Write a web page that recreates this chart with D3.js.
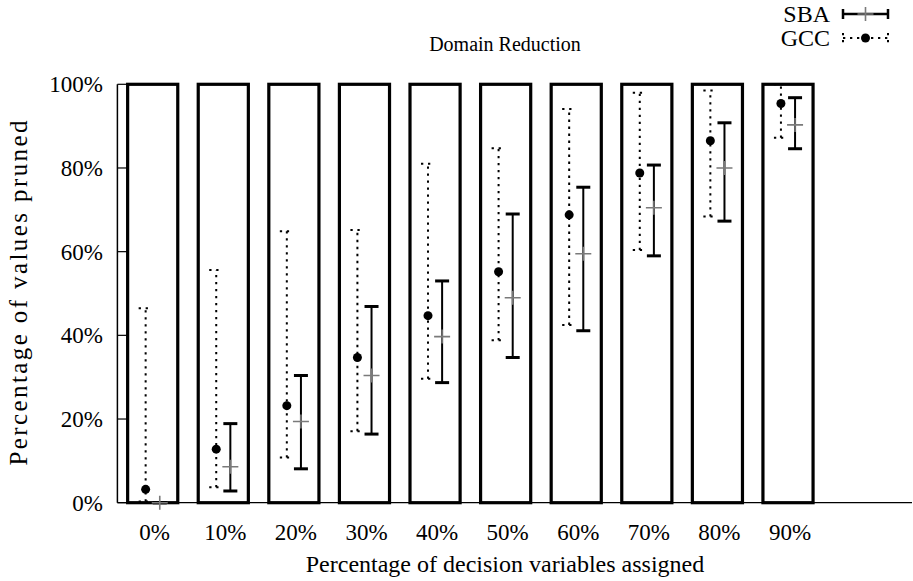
<!DOCTYPE html>
<html>
<head>
<meta charset="utf-8">
<script src="https://cdn.jsdelivr.net/npm/d3@7"></script>
<style>
  body { margin: 0; background: #fff; }
  svg text { font-family: "Liberation Serif", serif; fill: #000; }
</style>
</head>
<body>
<svg id="chart" width="913" height="581"></svg>
<script>
var categories = ['0%', '10%', '20%', '30%', '40%', '50%', '60%', '70%', '80%', '90%'];
var barValues = [100, 100, 100, 100, 100, 100, 100, 100, 100, 100];

var gccMean = [3.2, 12.8, 23.2, 34.7, 44.7, 55.2, 68.8, 78.8, 86.5, 95.4];
var gccLow  = [0.3, 3.7, 10.8, 17.1, 29.6, 38.8, 42.5, 60.4, 68.4, 87.2];
var gccHigh = [46.5, 55.6, 64.9, 65.2, 81.0, 84.7, 94.1, 98.0, 98.5, 100];

var sbaMean = [0, 8.6, 19.4, 30.4, 39.7, 49.0, 59.5, 70.5, 80.0, 90.3];
var sbaLow  = [0, 2.8, 8.1, 16.4, 28.7, 34.7, 41.1, 59.0, 67.3, 84.6];
var sbaHigh = [0, 18.9, 30.4, 46.9, 53.0, 69.0, 75.4, 80.7, 90.8, 96.8];

var yTicks = [0, 20, 40, 60, 80, 100];

var svg = d3.select('#chart');

var x = d3.scaleLinear().domain([0, 9]).range([152.7, 788]);
var y = d3.scaleLinear().domain([0, 100]).range([502.7, 84.3]);
var unit = x(1) - x(0);

var boxW = 0.71, off = 0.1, cap = 7;
var dots = '2.3,4.7';

function series(mean, low, high) {
  return categories.map(function(c, i) {
    return {i: i, mean: mean[i], low: low[i], high: high[i]};
  });
}
var gcc = series(gccMean, gccLow, gccHigh);
var sba = series(sbaMean, sbaLow, sbaHigh);

// axis lines (left border + zero line only)
svg.append('line')
  .attr('x1', x(-0.5)).attr('x2', 912)
  .attr('y1', y(0)).attr('y2', y(0))
  .attr('stroke', '#000').attr('stroke-width', 1.2);
svg.append('line')
  .attr('x1', x(-0.5)).attr('x2', x(-0.5))
  .attr('y1', y(0)).attr('y2', y(100))
  .attr('stroke', '#000').attr('stroke-width', 1.5);

// y ticks point inward
svg.append('g').selectAll('line')
  .data(yTicks).enter().append('line')
  .attr('x1', x(-0.5)).attr('x2', x(-0.5) + 11)
  .attr('y1', function(d) { return y(d); })
  .attr('y2', function(d) { return y(d); })
  .attr('stroke', '#000').attr('stroke-width', 1.2);

svg.append('g').selectAll('text')
  .data(yTicks).enter().append('text')
  .attr('x', 103).attr('y', function(d) { return y(d) + 8; })
  .attr('text-anchor', 'end').attr('font-size', 23)
  .text(function(d) { return d + '%'; });

svg.append('g').selectAll('text')
  .data(categories).enter().append('text')
  .attr('x', function(d, i) { return x(i) + 2; }).attr('y', 540)
  .attr('text-anchor', 'middle').attr('font-size', 23)
  .text(function(d) { return d; });

// bars
svg.append('g').selectAll('rect')
  .data(barValues).enter().append('rect')
  .attr('x', function(d, i) { return x(i - boxW / 2); })
  .attr('y', function(d) { return y(d); })
  .attr('width', boxW * unit)
  .attr('height', function(d) { return y(0) - y(d); })
  .attr('fill', 'none').attr('stroke', '#000').attr('stroke-width', 3.2);

// GCC error bars (dotted)
var g1 = svg.append('g');
g1.selectAll('line.v').data(gcc).enter().append('line')
  .attr('x1', function(d) { return x(d.i - off); })
  .attr('x2', function(d) { return x(d.i - off); })
  .attr('y1', function(d) { return y(d.low); })
  .attr('y2', function(d) { return y(d.high); })
  .attr('stroke', '#000').attr('stroke-width', 2).attr('stroke-dasharray', dots);
['low', 'high'].forEach(function(k) {
  g1.selectAll('line.c' + k).data(gcc).enter().append('line')
    .attr('x1', function(d) { return x(d.i - off) - cap; })
    .attr('x2', function(d) { return x(d.i - off) + cap; })
    .attr('y1', function(d) { return y(d[k]); })
    .attr('y2', function(d) { return y(d[k]); })
    .attr('stroke', '#000').attr('stroke-width', 2).attr('stroke-dasharray', dots);
});
g1.selectAll('circle').data(gcc).enter().append('circle')
  .attr('cx', function(d) { return x(d.i - off); })
  .attr('cy', function(d) { return y(d.mean); })
  .attr('r', 4.5).attr('fill', '#000');

// SBA error bars (solid)
var g2 = svg.append('g');
g2.selectAll('line.v').data(sba).enter().append('line')
  .attr('x1', function(d) { return x(d.i + off); })
  .attr('x2', function(d) { return x(d.i + off); })
  .attr('y1', function(d) { return y(d.low); })
  .attr('y2', function(d) { return y(d.high); })
  .attr('stroke', '#000').attr('stroke-width', 2);
['low', 'high'].forEach(function(k) {
  g2.selectAll('line.c' + k).data(sba).enter().append('line')
    .attr('x1', function(d) { return x(d.i + off) - cap; })
    .attr('x2', function(d) { return x(d.i + off) + cap; })
    .attr('y1', function(d) { return y(d[k]); })
    .attr('y2', function(d) { return y(d[k]); })
    .attr('stroke', '#000').attr('stroke-width', 3);
});
g2.selectAll('path').data(sba).enter().append('path')
  .attr('d', function(d) {
    var cx = x(d.i + off), cy = y(d.mean);
    return 'M' + (cx - 8) + ',' + cy + 'H' + (cx + 8) + 'M' + cx + ',' + (cy - 7) + 'V' + (cy + 7);
  })
  .attr('stroke', '#7a7a7a').attr('stroke-width', 1.6).attr('fill', 'none');

// titles
svg.append('text').attr('x', 505).attr('y', 51)
  .attr('text-anchor', 'middle').attr('font-size', 20).text('Domain Reduction');
svg.append('text').attr('x', 505).attr('y', 572)
  .attr('text-anchor', 'middle').attr('font-size', 24).text('Percentage of decision variables assigned');
svg.append('text')
  .attr('transform', 'translate(27,' + 293 + ') rotate(-90)')
  .attr('text-anchor', 'middle').attr('font-size', 25)
  .attr('textLength', 345).attr('lengthAdjust', 'spacing')
  .text('Percentage of values pruned');

// legend
var legend = svg.append('g');
var lx1 = 843, lx2 = 888, lmid = (lx1 + lx2) / 2;
legend.append('text').attr('x', 830).attr('y', 22).attr('text-anchor', 'end')
  .attr('font-size', 24).text('SBA');
legend.append('text').attr('x', 830).attr('y', 46).attr('text-anchor', 'end')
  .attr('font-size', 24).text('GCC');
legend.append('path')
  .attr('d', 'M' + lx1 + ',14H' + lx2 + 'M' + lx1 + ',9V19M' + lx2 + ',9V19')
  .attr('stroke', '#000').attr('stroke-width', 2.5).attr('fill', 'none');
legend.append('path')
  .attr('d', 'M' + (lmid - 8) + ',14H' + (lmid + 8) + 'M' + lmid + ',7V21')
  .attr('stroke', '#7a7a7a').attr('stroke-width', 1.6).attr('fill', 'none');
legend.append('path')
  .attr('d', 'M' + lx1 + ',38H' + lx2 + 'M' + lx1 + ',33V43M' + lx2 + ',33V43')
  .attr('stroke', '#000').attr('stroke-width', 2).attr('stroke-dasharray', dots).attr('fill', 'none');
legend.append('circle').attr('cx', lmid).attr('cy', 38).attr('r', 4.5).attr('fill', '#000');
</script>
</body>
</html>
